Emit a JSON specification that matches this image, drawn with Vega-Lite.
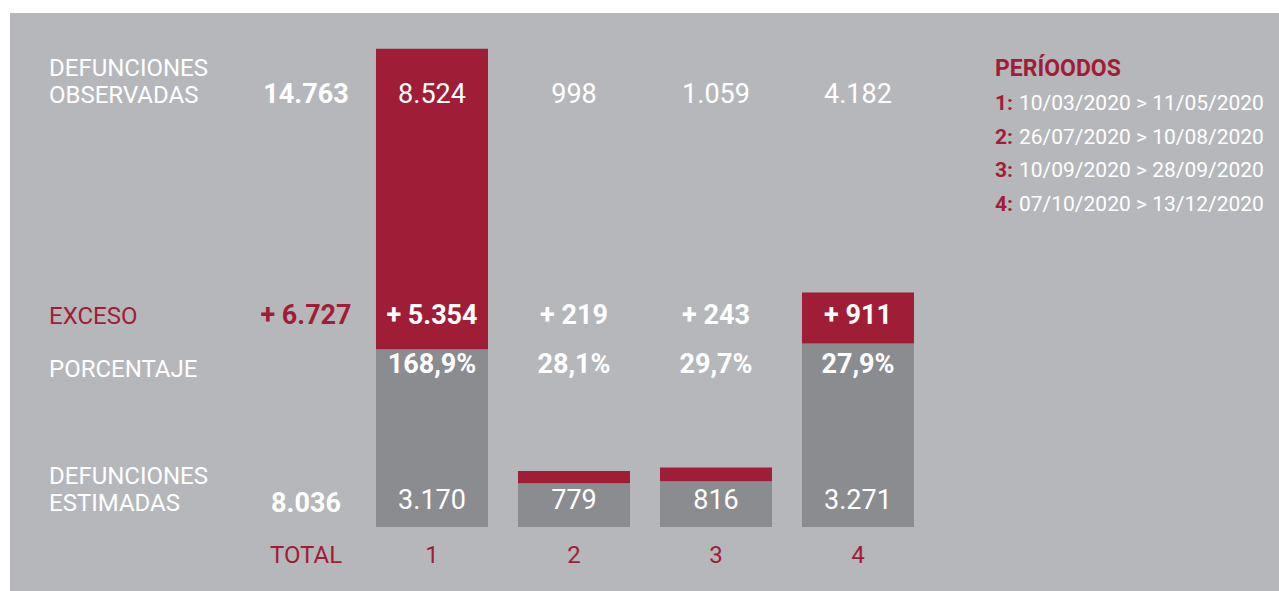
{
  "$schema": "https://vega.github.io/schema/vega-lite/v6.json",
  "width": 1269,
  "height": 578,
  "autosize": {"type": "none"},
  "padding": {"left": 10, "top": 13, "right": 0, "bottom": 0},
  "background": "#ffffff",
  "config": {
    "view": {"fill": "#b6b7bb", "stroke": null},
    "axis": {"disable": true},
    "legend": {"disable": true},
    "font": "Roboto, sans-serif",
    "text": {"font": "Roboto, sans-serif", "baseline": "alphabetic"},
    "locale": {"number": {"decimal": ",", "thousands": ".", "grouping": [3], "currency": ["", " €"]}}
  },
  "datasets": {
    "barras": [
      {"periodo": "1", "componente": "Estimadas", "defunciones": 3170},
      {"periodo": "1", "componente": "Exceso", "defunciones": 5354},
      {"periodo": "2", "componente": "Estimadas", "defunciones": 779},
      {"periodo": "2", "componente": "Exceso", "defunciones": 219},
      {"periodo": "3", "componente": "Estimadas", "defunciones": 816},
      {"periodo": "3", "componente": "Exceso", "defunciones": 243},
      {"periodo": "4", "componente": "Estimadas", "defunciones": 3271},
      {"periodo": "4", "componente": "Exceso", "defunciones": 911}
    ],
    "total": [
      {"periodo": "TOTAL", "observadas": 14763, "exceso": 6727, "estimadas": 8036}
    ],
    "periodos": [
      {"periodo": "1", "observadas": 8524, "exceso": 5354, "porcentaje": 1.689, "estimadas": 3170},
      {"periodo": "2", "observadas": 998, "exceso": 219, "porcentaje": 0.281, "estimadas": 779},
      {"periodo": "3", "observadas": 1059, "exceso": 243, "porcentaje": 0.297, "estimadas": 816},
      {"periodo": "4", "observadas": 4182, "exceso": 911, "porcentaje": 0.279, "estimadas": 3271}
    ],
    "rotulos": [
      {"fila": "observadas", "rotulo": "DEFUNCIONES\nOBSERVADAS"},
      {"fila": "exceso", "rotulo": "EXCESO"},
      {"fila": "porcentaje", "rotulo": "PORCENTAJE"},
      {"fila": "estimadas", "rotulo": "DEFUNCIONES\nESTIMADAS"}
    ],
    "leyenda": [
      {"periodo": "1", "clave": "1:", "fechas": "10/03/2020 > 11/05/2020"},
      {"periodo": "2", "clave": "2:", "fechas": "26/07/2020 > 10/08/2020"},
      {"periodo": "3", "clave": "3:", "fechas": "10/09/2020 > 28/09/2020"},
      {"periodo": "4", "clave": "4:", "fechas": "07/10/2020 > 13/12/2020"}
    ]
  },
  "layer": [
    {
      "layer": [
        {
          "data": {"name": "barras"},
          "mark": {"type": "bar"},
          "encoding": {
            "x": {"field": "periodo", "type": "nominal", "axis": null,
                  "scale": {"domain": ["rotulo", "TOTAL", "1", "2", "3", "4", "leyenda", "margen"], "paddingInner": 0.21127, "paddingOuter": 0.574, "align": 0.503}},
            "y": {"field": "defunciones", "type": "quantitative", "stack": "zero", "axis": null,
                  "scale": {"domain": [-1141, 9162], "nice": false, "zero": false}},
            "color": {"field": "componente", "type": "nominal", "legend": null,
                      "scale": {"domain": ["Estimadas", "Exceso"], "range": ["#8b8c90", "#a01d37"]}},
            "order": {"field": "componente", "sort": "ascending"}
          }
        },
        {
          "data": {"name": "total"},
          "layer": [
            {"mark": {"type": "text", "fontSize": 27, "fontWeight": "bold", "fill": "#ffffff", "dx": 16},
             "encoding": {"x": {"field": "periodo", "type": "nominal"}, "y": {"datum": 7558}, "text": {"field": "observadas", "format": ",d"}}},
            {"mark": {"type": "text", "fontSize": 27, "fontWeight": "bold", "fill": "#a01d37", "dx": 16},
             "encoding": {"x": {"field": "periodo", "type": "nominal"}, "y": {"datum": 3619}, "text": {"field": "exceso", "format": " =+7,d"}}},
            {"mark": {"type": "text", "fontSize": 27, "fontWeight": "bold", "fill": "#ffffff", "dx": 16},
             "encoding": {"x": {"field": "periodo", "type": "nominal"}, "y": {"datum": 267}, "text": {"field": "estimadas", "format": ",d"}}},
            {"mark": {"type": "text", "fontSize": 24, "fill": "#a01d37", "dx": 16},
             "encoding": {"x": {"field": "periodo", "type": "nominal"}, "y": {"datum": -642}, "text": {"field": "periodo"}}}
          ]
        },
        {
          "data": {"name": "periodos"},
          "layer": [
            {"mark": {"type": "text", "fontSize": 27, "fill": "#ffffff"},
             "encoding": {"x": {"field": "periodo", "type": "nominal"}, "y": {"datum": 7558}, "text": {"field": "observadas", "format": ",d"}}},
            {"transform": [{"filter": "datum.exceso >= 1000"}],
             "mark": {"type": "text", "fontSize": 27, "fontWeight": "bold", "fill": "#ffffff"},
             "encoding": {"x": {"field": "periodo", "type": "nominal"}, "y": {"datum": 3619}, "text": {"field": "exceso", "format": " =+7,d"}}},
            {"transform": [{"filter": "datum.exceso < 1000"}],
             "mark": {"type": "text", "fontSize": 27, "fontWeight": "bold", "fill": "#ffffff"},
             "encoding": {"x": {"field": "periodo", "type": "nominal"}, "y": {"datum": 3619}, "text": {"field": "exceso", "format": " =+5,d"}}},
            {"mark": {"type": "text", "fontSize": 27, "fontWeight": "bold", "fill": "#ffffff"},
             "encoding": {"x": {"field": "periodo", "type": "nominal"}, "y": {"datum": 2745}, "text": {"field": "porcentaje", "format": ".1%"}}},
            {"mark": {"type": "text", "fontSize": 27, "fill": "#ffffff"},
             "encoding": {"x": {"field": "periodo", "type": "nominal"}, "y": {"datum": 321}, "text": {"field": "estimadas", "format": ",d"}}},
            {"mark": {"type": "text", "fontSize": 24, "fill": "#a01d37"},
             "encoding": {"x": {"field": "periodo", "type": "nominal"}, "y": {"datum": -642}, "text": {"field": "periodo"}}}
          ]
        },
        {
          "data": {"name": "rotulos"},
          "layer": [
            {"transform": [{"filter": "datum.fila === 'observadas'"}],
             "mark": {"type": "text", "fontSize": 24, "fill": "#ffffff", "align": "left", "dx": -99, "lineBreak": "\n", "lineHeight": 27},
             "encoding": {"x": {"datum": "rotulo"}, "y": {"datum": 8039}, "text": {"field": "rotulo"}}},
            {"transform": [{"filter": "datum.fila === 'exceso'"}],
             "mark": {"type": "text", "fontSize": 24, "fill": "#a01d37", "align": "left", "dx": -99},
             "encoding": {"x": {"datum": "rotulo"}, "y": {"datum": 3619}, "text": {"field": "rotulo"}}},
            {"transform": [{"filter": "datum.fila === 'porcentaje'"}],
             "mark": {"type": "text", "fontSize": 24, "fill": "#ffffff", "align": "left", "dx": -99},
             "encoding": {"x": {"datum": "rotulo"}, "y": {"datum": 2674}, "text": {"field": "rotulo"}}},
            {"transform": [{"filter": "datum.fila === 'estimadas'"}],
             "mark": {"type": "text", "fontSize": 24, "fill": "#ffffff", "align": "left", "dx": -99, "lineBreak": "\n", "lineHeight": 27},
             "encoding": {"x": {"datum": "rotulo"}, "y": {"datum": 766}, "text": {"field": "rotulo"}}}
          ]
        }
      ]
    },
    {
      "data": {"name": "leyenda"},
      "layer": [
        {"mark": {"type": "text", "fontSize": 21, "fontWeight": "bold", "fill": "#a01d37", "align": "left", "dx": -5},
         "encoding": {
           "x": {"datum": "leyenda"},
           "y": {"field": "periodo", "type": "ordinal", "axis": null, "scale": {"type": "point", "domain": ["1", "2", "3", "4"], "padding": 0, "range": [97, 198]}},
           "text": {"field": "clave"}}},
        {"mark": {"type": "text", "fontSize": 21, "fill": "#ffffff", "align": "left", "dx": 19},
         "encoding": {"x": {"datum": "leyenda"}, "y": {"field": "periodo", "type": "ordinal"}, "text": {"field": "fechas"}}},
        {"transform": [{"filter": "datum.periodo === '1'"}],
         "mark": {"type": "text", "fontSize": 23, "fontWeight": "bold", "fill": "#a01d37", "align": "left", "dx": -5, "dy": -34},
         "encoding": {"x": {"datum": "leyenda"}, "y": {"field": "periodo", "type": "ordinal"}, "text": {"value": "PERÍOODOS"}}}
      ]
    }
  ],
  "resolve": {"scale": {"y": "independent"}}
}
